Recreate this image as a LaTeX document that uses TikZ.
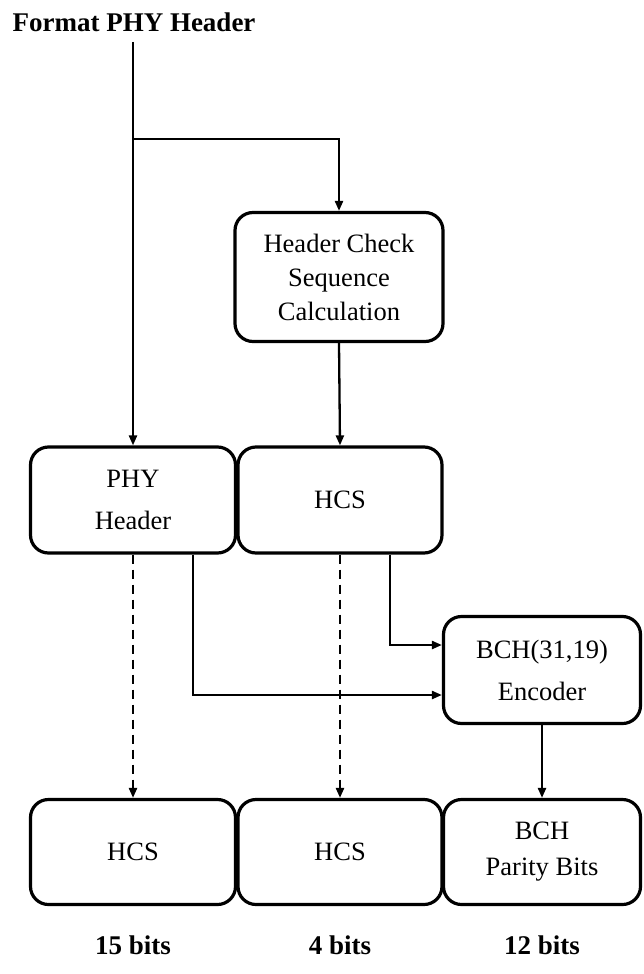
\documentclass[tikz,border=0pt]{standalone}
\usepackage{fontspec}
\setmainfont{Liberation Serif}
\usetikzlibrary{arrows.meta}
\begin{document}
\begin{tikzpicture}[x=1pt,y=-1pt,
  blk/.style={draw,line width=3.2pt,rounded corners=18pt,align=center,
    font=\fontsize{26.5}{42}\selectfont,inner sep=0pt},
  conn/.style={line width=2.3pt,-{Triangle[length=10pt,width=8pt]}},
  dconn/.style={conn,dash pattern=on 9pt off 6pt},
  lbl/.style={font=\fontsize{27}{30}\selectfont\bfseries,inner sep=0pt}]
\useasboundingbox (0,0) rectangle (643,974);
\node[lbl] (title) at (134,22) {Format PHY Header};
\node[blk,minimum width=208pt,minimum height=129pt] (calc) at (339,277) {Header Check\\[-8pt]Sequence\\[-8pt]Calculation};
\node[blk,minimum width=205pt,minimum height=106pt] (phy) at (133,500) {PHY\\Header};
\node[blk,minimum width=204pt,minimum height=106pt] (hcs) at (340,500) {HCS};
\node[blk,minimum width=197pt,minimum height=107pt] (bch) at (542,670) {BCH(31,19)\\Encoder};
\node[blk,minimum width=205pt,minimum height=105pt] (hcsa) at (133,852) {HCS};
\node[blk,minimum width=204pt,minimum height=105pt] (hcsb) at (340,852) {HCS};
\node[blk,minimum width=197pt,minimum height=105pt] (par) at (542,852) {BCH\\[-6pt]Parity Bits};
\node[lbl] (l1) at (133,945) {15 bits};
\node[lbl] (l2) at (340,945) {4 bits};
\node[lbl] (l3) at (542,945) {12 bits};
\coordinate (top) at (133,42);
\coordinate (br) at (133,139);
\draw[conn] (top) -- (phy.north);
\draw[conn] (br) -| (calc.north);
\draw[conn] (calc.south) -- (hcs.north);
\draw[dconn] (phy.south) -- (hcsa.north);
\draw[dconn] (hcs.south) -- (hcsb.north);
\draw[conn] ([xshift=60pt]phy.south) |- ([yshift=-25pt]bch.west);
\draw[conn] ([xshift=50pt]hcs.south) |- ([yshift=25pt]bch.west);
\draw[conn] (bch.south) -- (par.north);
\end{tikzpicture}
\end{document}
